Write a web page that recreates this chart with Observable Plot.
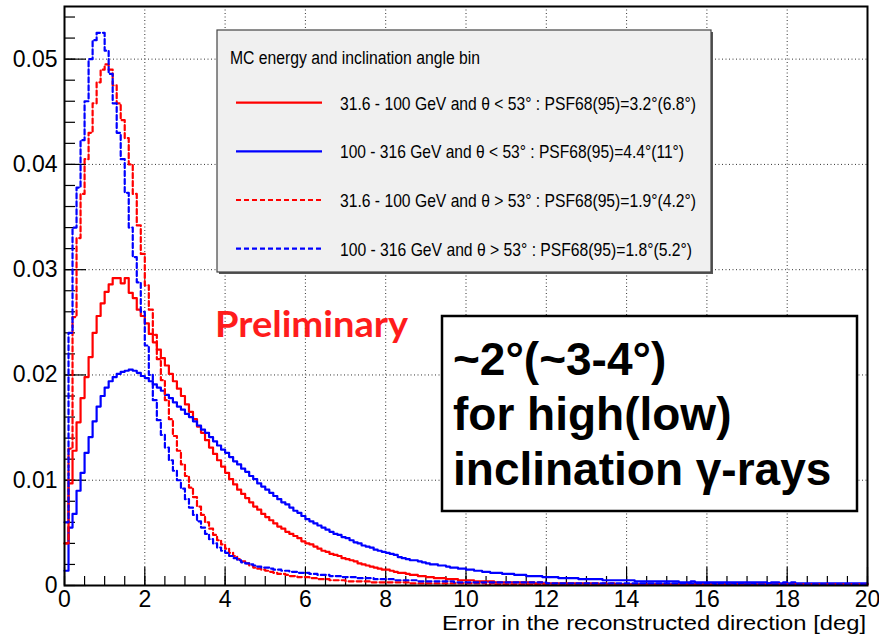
<!DOCTYPE html>
<html><head><meta charset="utf-8">
<script src="https://cdn.jsdelivr.net/npm/d3@7"></script>
<script src="https://cdn.jsdelivr.net/npm/@observablehq/plot@0.6"></script>
<style>body{margin:0;background:#fff} #chart{width:879px;height:638px}</style>
</head><body><div id="chart"></div>
<script>
// ---- data ----
const binWidth = 0.1;          // histogram bin width [deg], 200 bins from 0 to 20
const xTicks = [0, 2, 4, 6, 8, 10, 12, 14, 16, 18, 20];
const yTicks = [0, 0.01, 0.02, 0.03, 0.04, 0.05];
const yTickLabels = ["0", "0.01", "0.02", "0.03", "0.04", "0.05"];
const xLabel = "Error in the reconstructed direction [deg]";
const legendTitle = "MC energy and inclination angle bin";
const seriesNames = [
  "31.6 - 100 GeV and \u03b8 < 53\u00b0 : PSF68(95)=3.2\u00b0(6.8\u00b0)",
  "100 - 316 GeV and \u03b8 < 53\u00b0 : PSF68(95)=4.4\u00b0(11\u00b0)",
  "31.6 - 100 GeV and \u03b8 > 53\u00b0 : PSF68(95)=1.9\u00b0(4.2\u00b0)",
  "100 - 316 GeV and \u03b8 > 53\u00b0 : PSF68(95)=1.8\u00b0(5.2\u00b0)"
];
const seriesColors = ["#ff0000", "#0000ff", "#ff0000", "#0000ff"];
const seriesDashed = [false, false, true, true];
const prelimText = "Preliminary";
const boxLines = ["~2\u00b0(~3-4\u00b0)", "for high(low)", "inclination \u03b3-rays"];

// 31.6-100 GeV, theta < 53 (red solid)
const lowE_lowTheta = [
0.0040,0.0097,0.0128,0.0155,0.0178,0.0198,0.0217,0.0240,0.0256,0.0268,
0.0279,0.0286,0.0292,0.0292,0.0287,0.0292,0.0278,0.0273,0.0262,0.0256,
0.0249,0.0239,0.0231,0.0224,0.0216,0.0209,0.0201,0.0194,0.0187,0.0180,
0.0172,0.0165,0.0158,0.0151,0.0145,0.0138,0.0131,0.0125,0.0119,0.0113,
0.0107,0.0101,0.0096,0.0091,0.0087,0.0083,0.0079,0.0075,0.0072,0.0068,
0.0065,0.0062,0.0059,0.0056,0.0054,0.0051,0.0049,0.0047,0.0045,0.0042,
0.0040,0.0039,0.0037,0.0035,0.0033,0.0032,0.0030,0.0029,0.0028,0.0026,
0.0025,0.0024,0.0023,0.0021,0.0020,0.0019,0.0018,0.0017,0.0016,0.0015,
0.0015,0.0014,0.0013,0.0012,0.0012,0.0011,0.0010,0.0010,0.0009,0.0009,
0.0008,0.0008,0.0007,0.0007,0.0007,0.0006,0.0006,0.0006,0.0005,0.0005,
0.0005,0.0005,0.0004,0.0004,0.0004,0.0004,0.0004,0.0003,0.0003,0.0003,
0.0003,0.0003,0.0003,0.0003,0.0003,0.0003,0.0003,0.0002,0.0003,0.0002,
0.0002,0.0002,0.0002,0.0002,0.0002,0.0002,0.0002,0.0002,0.0002,0.0002,
0.0002,0.0002,0.0002,0.0001,0.0002,0.0001,0.0002,0.0001,0.0001,0.0001,
0.0001,0.0001,0.0001,0.0001,0.0001,0.0001,0.0001,0.0001,0.0001,0.0001,
0.0001,0.0001,0.0001,0.0001,0.0001,0.0001,0.0001,0.0001,0.0001,0.0001,
0.0001,0.0001,0.0001,0.0001,0.0001,0.0001,0.0001,0.0001,0.0001,0.0001,
0.0001,0.0001,0.0001,0.0001,0.0001,0.0001,0.0001,0.0001,0.0001,0.0001,
0.0001,0.0001,0.0001,0.0001,0.0001,0.0001,0.0001,0.0001,0.0001,0.0001,
0.0001,0.0001,0.0001,0.0001,0.0001,0.0001,0.0001,0.0001,0.0001,0.0001
];
// 100-316 GeV, theta < 53 (blue solid)
const highE_lowTheta = [
0.0014,0.0055,0.0068,0.0090,0.0107,0.0126,0.0141,0.0156,0.0170,0.0180,
0.0188,0.0194,0.0198,0.0201,0.0203,0.0204,0.0205,0.0204,0.0202,0.0199,
0.0197,0.0194,0.0191,0.0188,0.0185,0.0181,0.0178,0.0174,0.0170,0.0167,
0.0163,0.0160,0.0156,0.0152,0.0148,0.0145,0.0141,0.0137,0.0133,0.0129,
0.0126,0.0122,0.0118,0.0115,0.0111,0.0108,0.0104,0.0101,0.0097,0.0094,
0.0091,0.0088,0.0085,0.0082,0.0079,0.0077,0.0074,0.0071,0.0069,0.0066,
0.0063,0.0061,0.0059,0.0057,0.0055,0.0053,0.0051,0.0049,0.0048,0.0046,
0.0045,0.0043,0.0041,0.0040,0.0038,0.0037,0.0036,0.0034,0.0033,0.0032,
0.0031,0.0030,0.0029,0.0027,0.0026,0.0025,0.0024,0.0024,0.0023,0.0022,
0.0021,0.0020,0.0020,0.0019,0.0019,0.0018,0.0017,0.0017,0.0016,0.0016,
0.0015,0.0015,0.0014,0.0014,0.0013,0.0013,0.0012,0.0012,0.0012,0.0011,
0.0011,0.0011,0.0010,0.0010,0.0010,0.0009,0.0009,0.0009,0.0009,0.0008,
0.0008,0.0008,0.0008,0.0007,0.0007,0.0007,0.0007,0.0007,0.0006,0.0006,
0.0006,0.0006,0.0006,0.0006,0.0005,0.0005,0.0005,0.0005,0.0005,0.0005,
0.0005,0.0005,0.0004,0.0004,0.0004,0.0004,0.0004,0.0004,0.0004,0.0004,
0.0004,0.0004,0.0004,0.0003,0.0003,0.0003,0.0004,0.0003,0.0003,0.0003,
0.0003,0.0003,0.0003,0.0003,0.0003,0.0003,0.0003,0.0003,0.0003,0.0003,
0.0003,0.0003,0.0003,0.0003,0.0003,0.0002,0.0003,0.0003,0.0002,0.0003,
0.0002,0.0003,0.0002,0.0002,0.0002,0.0002,0.0002,0.0002,0.0002,0.0002,
0.0002,0.0002,0.0002,0.0002,0.0002,0.0002,0.0002,0.0002,0.0002,0.0002
];
// 31.6-100 GeV, theta > 53 (red dashed)
const lowE_highTheta = [
0.0040,0.0130,0.0255,0.0330,0.0372,0.0405,0.0430,0.0458,0.0478,0.0490,
0.0495,0.0490,0.0475,0.0458,0.0442,0.0425,0.0400,0.0372,0.0342,0.0315,
0.0285,0.0262,0.0238,0.0215,0.0195,0.0176,0.0158,0.0142,0.0128,0.0115,
0.0104,0.0093,0.0084,0.0075,0.0067,0.0060,0.0054,0.0048,0.0043,0.0039,
0.0035,0.0031,0.0028,0.0025,0.0023,0.0021,0.0019,0.0017,0.0016,0.0015,
0.0014,0.0013,0.0012,0.0011,0.0011,0.0010,0.0009,0.0009,0.0008,0.0008,
0.0008,0.0007,0.0007,0.0006,0.0006,0.0006,0.0005,0.0005,0.0005,0.0005,
0.0004,0.0004,0.0004,0.0004,0.0004,0.0004,0.0003,0.0003,0.0003,0.0003,
0.0003,0.0003,0.0003,0.0003,0.0003,0.0003,0.0002,0.0002,0.0002,0.0002,
0.0002,0.0002,0.0002,0.0002,0.0002,0.0002,0.0002,0.0002,0.0002,0.0002,
0.0002,0.0002,0.0002,0.0002,0.0002,0.0001,0.0002,0.0001,0.0001,0.0001,
0.0001,0.0001,0.0001,0.0001,0.0001,0.0001,0.0001,0.0001,0.0001,0.0001,
0.0001,0.0001,0.0001,0.0001,0.0001,0.0001,0.0001,0.0001,0.0001,0.0001,
0.0001,0.0001,0.0001,0.0001,0.0001,0.0001,0.0001,0.0001,0.0001,0.0001,
0.0001,0.0001,0.0001,0.0001,0.0001,0.0001,0.0001,0.0001,0.0001,0.0001,
0.0001,0.0001,0.0001,0.0001,0.0001,0.0001,0.0001,0.0001,0.0001,0.0001,
0.0001,0.0001,0.0001,0.0001,0.0001,0.0001,0.0001,0.0001,0.0001,0.0001,
0.0001,0.0001,0.0001,0.0001,0.0001,0.0001,0.0001,0.0001,0.0001,0.0001,
0.0001,0.0001,0.0001,0.0001,0.0001,0.0001,0.0001,0.0001,0.0001,0.0001,
0.0001,0.0001,0.0001,0.0001,0.0001,0.0001,0.0001,0.0001,0.0001,0.0001
];
// 100-316 GeV, theta > 53 (blue dashed)
const highE_highTheta = [
0.0060,0.0240,0.0340,0.0378,0.0423,0.0460,0.0500,0.0518,0.0525,0.0525,
0.0508,0.0486,0.0458,0.0430,0.0405,0.0373,0.0340,0.0312,0.0288,0.0260,
0.0228,0.0200,0.0176,0.0157,0.0143,0.0131,0.0119,0.0109,0.0100,0.0092,
0.0082,0.0074,0.0067,0.0061,0.0055,0.0049,0.0044,0.0040,0.0036,0.0033,
0.0031,0.0028,0.0026,0.0024,0.0022,0.0021,0.0020,0.0019,0.0018,0.0017,
0.0017,0.0016,0.0015,0.0015,0.0014,0.0014,0.0013,0.0013,0.0012,0.0012,
0.0012,0.0011,0.0011,0.0010,0.0010,0.0010,0.0009,0.0009,0.0009,0.0008,
0.0008,0.0008,0.0008,0.0007,0.0007,0.0007,0.0007,0.0006,0.0006,0.0006,
0.0006,0.0006,0.0005,0.0005,0.0005,0.0005,0.0005,0.0005,0.0004,0.0004,
0.0004,0.0004,0.0004,0.0004,0.0004,0.0004,0.0004,0.0003,0.0003,0.0003,
0.0003,0.0003,0.0003,0.0003,0.0003,0.0003,0.0003,0.0003,0.0003,0.0003,
0.0003,0.0003,0.0003,0.0003,0.0003,0.0003,0.0003,0.0003,0.0003,0.0003,
0.0002,0.0002,0.0002,0.0002,0.0002,0.0002,0.0002,0.0002,0.0002,0.0002,
0.0002,0.0002,0.0002,0.0002,0.0002,0.0002,0.0002,0.0002,0.0002,0.0002,
0.0002,0.0002,0.0002,0.0002,0.0002,0.0002,0.0002,0.0002,0.0002,0.0002,
0.0002,0.0002,0.0002,0.0002,0.0002,0.0002,0.0002,0.0002,0.0002,0.0002,
0.0002,0.0002,0.0001,0.0002,0.0002,0.0001,0.0002,0.0001,0.0002,0.0001,
0.0001,0.0002,0.0001,0.0001,0.0001,0.0002,0.0001,0.0001,0.0001,0.0001,
0.0001,0.0001,0.0001,0.0001,0.0001,0.0001,0.0001,0.0001,0.0001,0.0001,
0.0001,0.0001,0.0001,0.0001,0.0001,0.0001,0.0001,0.0001,0.0001,0.0001
];
const seriesValues = [lowE_lowTheta, highE_lowTheta, lowE_highTheta, highE_highTheta];

// ---- layout ----
const W = 879, H = 638;
const M = {left: 64, right: 12, top: 6, bottom: 53};
const FW = W - M.left - M.right, FH = H - M.top - M.bottom;
const FONT = "'Liberation Sans', Arial, Helvetica, sans-serif";

function steps(vals, name) {
  const pts = vals.map((v, i) => ({x: Math.round(i * binWidth * 10) / 10, y: v, s: name}));
  pts.push({x: xTicks[xTicks.length - 1], y: vals[vals.length - 1], s: name});
  return pts;
}
const xMinor = d3.range(0, 20.001, 0.5);
const yMinor = d3.range(0, 0.0551, 0.002);

const lineMarks = seriesValues.map((vals, k) =>
  Plot.line(steps(vals, seriesNames[k]), {
    x: "x", y: "y", curve: "step-after",
    stroke: seriesColors[k], strokeWidth: 2.2,
    strokeDasharray: seriesDashed[k] ? "5,3" : null
  })
);

const plot = Plot.plot({
  width: W, height: H,
  marginLeft: M.left, marginRight: M.right, marginTop: M.top, marginBottom: M.bottom,
  style: {fontFamily: FONT, background: "white", color: "#000", overflow: "visible"},
  x: {domain: [0, 20]},
  y: {domain: [0, 0.055]},
  marks: [
    Plot.gridX(xTicks.slice(1, -1), {stroke: "#333", strokeOpacity: 1, strokeDasharray: "1,2.5"}),
    Plot.gridY(yTicks.slice(1), {stroke: "#333", strokeOpacity: 1, strokeDasharray: "1,2.5"}),
    Plot.ruleX(xMinor, {insetTop: FH - 9, stroke: "#000", strokeWidth: 1.2}),
    Plot.ruleX(xTicks, {insetTop: FH - 18, stroke: "#000", strokeWidth: 1.2}),
    Plot.ruleY(yMinor, {insetRight: FW - 11, stroke: "#000", strokeWidth: 1.2}),
    Plot.ruleY(yTicks, {insetRight: FW - 22, stroke: "#000", strokeWidth: 1.2}),
    ...lineMarks,
    Plot.axisX(xTicks, {tickSize: 0, tickPadding: 5, fontSize: 23, label: null}),
    Plot.axisY(yTicks, {tickSize: 0, tickPadding: 7, fontSize: 23, label: null,
      tickFormat: d => yTickLabels[yTicks.indexOf(d)]}),
    Plot.frame({stroke: "#000", strokeWidth: 2})
  ]
});
document.getElementById("chart").appendChild(plot);

// ---- annotations (axis title, legend, Preliminary, box) ----
const svg = d3.select(plot);
svg.append("text").attr("x", 866).attr("y", 630).attr("text-anchor", "end")
  .attr("font-family", FONT).attr("font-size", 21).attr("fill", "#000")
  .attr("textLength", 424).attr("lengthAdjust", "spacingAndGlyphs").text(xLabel);

const leg = svg.append("g").attr("font-family", FONT).attr("text-anchor", "start");
leg.append("rect").attr("x", 219).attr("y", 32).attr("width", 494).attr("height", 242).attr("fill", "#555");
leg.append("rect").attr("x", 217).attr("y", 30).attr("width", 494).attr("height", 242)
  .attr("fill", "#f0f0f0").attr("stroke", "#444").attr("stroke-width", 1.2);
leg.append("text").attr("x", 230).attr("y", 64).attr("font-size", 18).attr("fill", "#000")
  .attr("textLength", 250).attr("lengthAdjust", "spacingAndGlyphs").text(legendTitle);
const entryY = [102.7, 151.3, 200, 248.7];
const entryW = [356, 344, 356, 352];
seriesNames.forEach((name, k) => {
  leg.append("line").attr("x1", 236).attr("x2", 322).attr("y1", entryY[k]).attr("y2", entryY[k])
    .attr("stroke", seriesColors[k]).attr("stroke-width", 2.2)
    .attr("stroke-dasharray", seriesDashed[k] ? "5,3" : null);
  leg.append("text").attr("x", 340).attr("y", entryY[k] + 7).attr("font-size", 19).attr("fill", "#000")
    .attr("textLength", entryW[k]).attr("lengthAdjust", "spacingAndGlyphs").text(name);
});

svg.append("text").attr("x", 215).attr("y", 337).attr("text-anchor", "start")
  .attr("font-family", "Lato, 'Open Sans', sans-serif").attr("font-weight", 700)
  .attr("font-size", 37).attr("fill", "#ff1c1c")
  .attr("textLength", 193).attr("lengthAdjust", "spacingAndGlyphs").text(prelimText);

const box = svg.append("g").attr("font-family", FONT).attr("text-anchor", "start");
box.append("rect").attr("x", 442).attr("y", 316).attr("width", 415).attr("height", 195)
  .attr("fill", "#fff").attr("stroke", "#000").attr("stroke-width", 2.5);
const boxY = [375, 430, 485];
boxLines.forEach((t, i) => {
  box.append("text").attr("x", 453).attr("y", boxY[i]).attr("font-size", 46)
    .attr("font-weight", 700).attr("fill", "#000").text(t);
});
</script>
</body></html>
